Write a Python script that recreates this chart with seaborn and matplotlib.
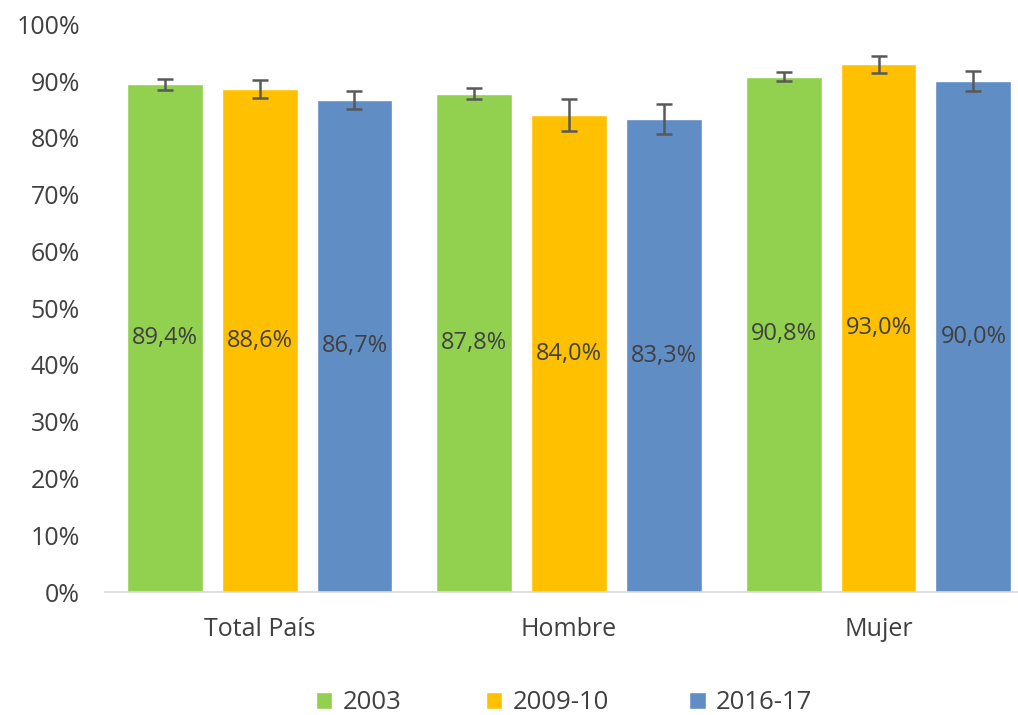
import numpy as np
import pandas as pd
import matplotlib
matplotlib.use("Agg")
import matplotlib.pyplot as plt
import seaborn as sns
from matplotlib.patches import Patch

categorias = ["Total País", "Hombre", "Mujer"]
periodos = ["2003", "2009-10", "2016-17"]
valores = {
    "2003": [89.4, 87.8, 90.8],
    "2009-10": [88.6, 84.0, 93.0],
    "2016-17": [86.7, 83.3, 90.0],
}
errores = {
    "2003": [0.9, 0.9, 0.8],
    "2009-10": [1.6, 2.8, 1.5],
    "2016-17": [1.6, 2.7, 1.7],
}
colores = ["#92D050", "#FFC000", "#5F8DC4"]

rows = []
for p in periodos:
    for c, v in zip(categorias, valores[p]):
        rows.append({"cat": c, "periodo": p, "valor": v})
df = pd.DataFrame(rows)

sns.set_style("white")
plt.rcParams["font.family"] = ["Open Sans", "DejaVu Sans"]
txt = "#404040"

fig = plt.figure(figsize=(10.18, 7.15), dpi=100)
# el area de trazado sobresale un poco por la derecha, como en el original
ax = fig.add_axes([0.103, 0.172, 0.912, 0.794])
sns.barplot(data=df, x="cat", y="valor", hue="periodo", order=categorias,
            hue_order=periodos, palette=colores, width=0.92, gap=0.2,
            saturation=1, ax=ax, legend=False, errorbar=None)

for cont, p in zip(ax.containers, periodos):
    xs = [b.get_x() + b.get_width() / 2 for b in cont]
    ax.errorbar(xs, valores[p], yerr=errores[p], fmt="none", ecolor="#595959",
                elinewidth=1.8, capsize=6, capthick=1.8)
    ax.bar_label(cont, labels=[f"{v:.1f}%".replace(".", ",") for v in valores[p]],
                 label_type="center", fontsize=17, color=txt)

ax.set_ylim(0, 100)
ax.set_xlim(-0.5, 2.5)
ax.set_yticks(np.arange(0, 101, 10))
ax.set_yticklabels([f"{t}%" for t in range(0, 101, 10)])
ax.set_xlabel("")
ax.set_ylabel("")
ax.tick_params(axis="both", length=0, labelsize=18, colors=txt)
ax.tick_params(axis="x", pad=18)
ax.tick_params(axis="y", pad=18)
for s in ["left", "right", "top"]:
    ax.spines[s].set_visible(False)
ax.spines["bottom"].set_color("#D9D9D9")
ax.spines["bottom"].set_linewidth(1.2)

# leyenda: una entrada por hueco, como en Excel
pos_x = [0.310, 0.477, 0.677]
for c, p, xl in zip(colores, periodos, pos_x):
    leg = fig.legend(handles=[Patch(facecolor=c, label=p)], loc="center left",
                     bbox_to_anchor=(xl, 0.017), frameon=False, fontsize=18.5,
                     labelcolor=txt, handlelength=0.65, handleheight=0.65,
                     handletextpad=0.4, borderpad=0, borderaxespad=0)

fig.savefig("out.png", dpi=100)
